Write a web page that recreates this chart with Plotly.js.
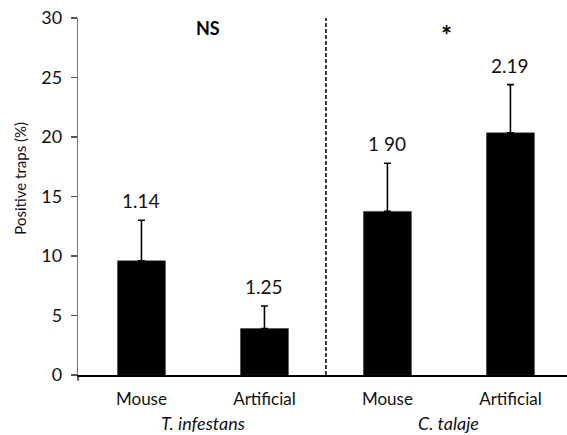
<!DOCTYPE html>
<html>
<head>
<meta charset="utf-8">
<script src="https://cdn.plot.ly/plotly-3.0.1.min.js"></script>
<style>html,body{margin:0;padding:0;background:#fff;}#chart{width:567px;height:435px;}</style>
</head>
<body>
<div id="chart"></div>
<script>
const categories = ["Mouse", "Artificial", "Mouse", "Artificial"];
const groups = ["T. infestans", "C. talaje"];
const values = [9.6, 3.9, 13.75, 20.35];
const errorsUp = [3.4, 1.9, 4.05, 4.05];
const ratioLabels = ["1.14", "1.25", "1 90", "2.19"];
const significance = ["NS", "*"];

const xs = categories.map((c, i) => i);
const font = "Lato, 'Open Sans', sans-serif";

const trace = {
  type: "bar",
  x: xs,
  y: values,
  width: 0.39,
  marker: {color: "#000", line: {color: "#333", width: 0.5}},
  error_y: {
    type: "data", symmetric: false, array: errorsUp,
    arrayminus: values.map(() => 0),
    color: "#000", thickness: 1.6, width: 3.5
  },
  hoverinfo: "none"
};

const annotations = [];
xs.forEach((x, i) => {
  annotations.push({
    x: x, y: values[i] + errorsUp[i], xref: "x", yref: "y",
    text: ratioLabels[i], showarrow: false, yanchor: "bottom", yshift: 6,
    font: {family: font, size: 19, color: "#111"}
  });
});
groups.forEach((g, i) => {
  annotations.push({
    x: 2 * i + 0.5, y: 0, xref: "x", yref: "paper", yshift: -48,
    text: "<i>" + g + "</i>", showarrow: false, yanchor: "middle",
    font: {family: font, size: 18, color: "#111"}
  });
});
annotations.push({
  x: 0.54, y: 29.2, xref: "x", yref: "y", text: "<b>" + significance[0] + "</b>",
  showarrow: false, font: {family: font, size: 18, color: "#000"}
});
annotations.push({
  x: 2.48, y: 28.6, xref: "x", yref: "y", text: "<b>" + significance[1] + "</b>",
  showarrow: false, font: {family: font, size: 26, color: "#000"}
});
annotations.push({
  x: 0, y: 0.55, xref: "paper", yref: "paper", xshift: -58, xanchor: "center", yanchor: "middle",
  text: "Positive traps (%)", textangle: -90, showarrow: false,
  font: {family: font, size: 15, color: "#111"}
});

const layout = {
  width: 567, height: 435,
  margin: {l: 78, r: 0, t: 18, b: 60},
  paper_bgcolor: "#fff", plot_bgcolor: "#fff",
  showlegend: false,
  xaxis: {
    range: [-0.516, 3.46],
    tickvals: xs, ticktext: categories,
    showline: true, linecolor: "#000", linewidth: 1.5,
    ticks: "", showgrid: false, zeroline: false,
    tickfont: {family: font, size: 17, color: "#111"},
    ticklabelstandoff: 8
  },
  yaxis: {
    range: [0, 30], dtick: 5, tick0: 0,
    showline: true, linecolor: "#777", linewidth: 1.2,
    ticks: "outside", ticklen: 6, tickcolor: "#555", tickwidth: 1.2,
    showgrid: false, zeroline: false,
    tickfont: {family: font, size: 18, color: "#111"},
    ticklabelstandoff: 5
  },
  shapes: [
    {type: "line", xref: "x", yref: "paper", x0: 1.5, x1: 1.5, y0: 0, y1: 1,
     line: {color: "#000", width: 1.5, dash: "4px,2px"}},
    {type: "line", xref: "paper", yref: "paper", x0: 0, x1: 0, y0: 0, y1: -0.016,
     line: {color: "#000", width: 1.2}}
  ],
  annotations: annotations,
  bargap: 0.6
};

Plotly.newPlot("chart", [trace], layout, {displayModeBar: false, staticPlot: true});
</script>
</body>
</html>
